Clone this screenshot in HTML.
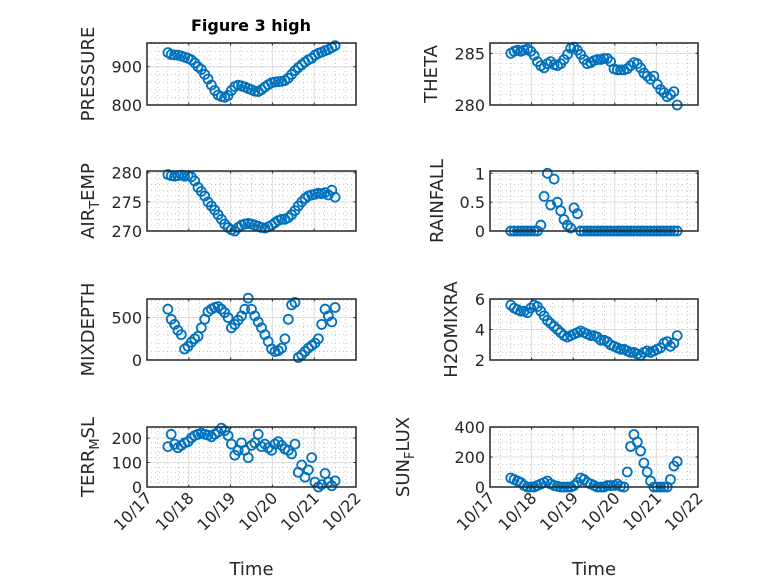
<!DOCTYPE html>
<html><head><meta charset="utf-8"><style>
html,body{margin:0;padding:0;background:#fff;}
svg{display:block;font-family:"DejaVu Sans","Liberation Sans",sans-serif;}
</style></head><body>
<svg id="fig" width="778" height="583" viewBox="0 0 778 583">
<rect width="778" height="583" fill="#fff"/>
</svg>
<script>
const times=[0.50,0.58,0.66,0.74,0.82,0.90,0.98,1.06,1.14,1.22,1.30,1.38,1.46,1.54,1.62,1.70,1.78,1.86,1.94,2.02,2.10,2.18,2.26,2.34,2.42,2.50,2.58,2.66,2.74,2.82,2.90,2.98,3.06,3.14,3.22,3.30,3.38,3.46,3.54,3.62,3.70,3.78,3.86,3.94,4.02,4.10,4.18,4.26,4.34,4.42,4.50];
const pressure=[937,932,931,930,928,925,922,918,910,900,893,880,868,852,838,826,822,820,825,838,848,852,850,847,843,840,836,835,840,847,853,858,860,861,862,864,870,880,890,898,905,912,918,922,930,935,938,942,945,950,955];
const theta=[285.0,285.2,285.3,285.2,285.3,285.4,285.2,284.8,284.2,283.8,283.6,284.0,284.2,283.9,283.8,284.0,284.4,284.9,285.5,285.6,285.3,284.9,284.4,284.0,284.1,284.3,284.4,284.4,284.5,284.5,284.2,283.5,283.4,283.4,283.4,283.5,283.8,284.1,284.0,283.6,283.1,282.8,282.5,282.8,282.0,281.5,281.2,280.8,281.0,281.3,280.0];
const airTemp=[279.7,279.5,279.4,279.5,279.6,279.4,279.5,279.3,278.6,277.5,276.8,276.0,275.0,274.3,273.6,272.8,272.0,271.2,270.6,270.2,270.0,270.6,271.0,271.2,271.3,271.2,271.0,270.8,270.6,270.5,270.7,271.0,271.4,271.8,272.0,272.0,272.3,272.8,273.5,274.3,275.0,275.6,276.0,276.2,276.3,276.5,276.4,276.6,276.2,277.0,275.8];
const rainfall=[0,0,0,0,0,0,0,0,0,0.1,0.6,1.0,0.45,0.9,0.5,0.35,0.2,0.1,0.05,0.4,0.3,0,0,0,0,0,0,0,0,0,0,0,0,0,0,0,0,0,0,0,0,0,0,0,0,0,0,0,0,0,0];
const mixDepth=[600,480,420,350,300,130,160,210,250,280,380,480,570,600,620,630,600,560,500,380,420,470,520,600,730,600,520,450,380,300,220,130,100,110,140,250,480,650,680,30,60,100,140,170,200,250,420,600,520,450,620];
const h2o=[5.6,5.4,5.3,5.2,5.2,5.1,5.4,5.6,5.5,5.2,4.9,4.6,4.4,4.2,4.0,3.8,3.6,3.5,3.6,3.7,3.8,3.9,3.8,3.7,3.6,3.6,3.5,3.3,3.3,3.2,3.0,2.9,2.8,2.7,2.7,2.6,2.5,2.5,2.4,2.3,2.5,2.6,2.5,2.6,2.7,2.8,3.1,3.2,2.9,3.1,3.6];
const terrMsl=[165,215,175,160,170,180,185,200,210,215,220,215,212,205,215,225,240,230,210,175,130,150,180,150,120,170,180,215,165,175,160,150,175,185,170,155,150,135,175,60,90,40,70,120,20,0,10,55,20,5,25];
const sunFlux=[60,50,40,30,10,0,0,0,10,20,30,40,20,10,5,0,0,0,0,10,30,60,50,30,20,10,0,0,0,10,10,10,20,5,0,100,270,350,300,240,160,100,40,0,0,0,0,0,50,140,170];
const xTickLabels=['10/17','10/18','10/19','10/20','10/21','10/22'];

const NS='http://www.w3.org/2000/svg';
const svg=document.getElementById('fig');
function mk(tag,attrs,parent){const e=document.createElementNS(NS,tag);for(const k in attrs)e.setAttribute(k,attrs[k]);(parent||svg).appendChild(e);return e;}

const panels=[
 {key:'pressure',data:pressure,x0:147,x1:356,y0:43,y1:105,ymin:800,ymax:962,ticks:[800,900],tl:['800','900'],minor:20,label:['PRESSURE'],lx:94},
 {key:'theta',data:theta,x0:490,x1:698,y0:43,y1:105,ymin:280,ymax:286,ticks:[280,285],tl:['280','285'],minor:1,label:['THETA'],lx:437},
 {key:'air-temp',data:airTemp,x0:147,x1:356,y0:171,y1:231,ymin:270,ymax:280.3,ticks:[270,275,280],tl:['270','275','280'],minor:1,label:['AIR','T','EMP'],lx:94},
 {key:'rainfall',data:rainfall,x0:490,x1:698,y0:171,y1:231,ymin:0,ymax:1.04,ticks:[0,0.5,1],tl:['0','0.5','1'],minor:0.1,label:['RAINFALL'],lx:443},
 {key:'mixdepth',data:mixDepth,x0:147,x1:356,y0:299,y1:360,ymin:0,ymax:720,ticks:[0,500],tl:['0','500'],minor:100,label:['MIXDEPTH'],lx:94},
 {key:'h2o-mix-ratio',data:h2o,x0:490,x1:698,y0:299,y1:360,ymin:2,ymax:6,ticks:[2,4,6],tl:['2','4','6'],minor:0.5,label:['H2OMIXRA'],lx:457},
 {key:'terr-msl',data:terrMsl,x0:147,x1:356,y0:427,y1:487,ymin:0,ymax:245,ticks:[0,100,200],tl:['0','100','200'],minor:20,label:['TERR','M','SL'],lx:94},
 {key:'sun-flux',data:sunFlux,x0:490,x1:698,y0:427,y1:487,ymin:0,ymax:400,ticks:[0,200,400],tl:['0','200','400'],minor:50,label:['SUN','F','LUX'],lx:409}
];

panels.forEach((p,pi)=>{
  const g=mk('g',{});
  
  
  const xs=t=>p.x0+(t/5)*(p.x1-p.x0);
  const ys=v=>p.y1-(v-p.ymin)/(p.ymax-p.ymin)*(p.y1-p.y0);
  for(let d=0;d<5;d++)for(let k=1;k<4;k++){
    const x=xs(d+k/4);
    mk('line',{x1:x,x2:x,y1:p.y0,y2:p.y1,stroke:'#b0b0b0','stroke-width':0.7,'stroke-dasharray':'1,3'},g);
  }
  for(let v=p.ymin;v<=p.ymax+1e-9;v+=p.minor){
    const vv=Math.round(v/p.minor)*p.minor; if(vv<p.ymin-1e-9||vv>p.ymax)continue;
    if(p.ticks.some(t=>Math.abs(t-vv)<1e-6))continue;
    const y=ys(vv);
    mk('line',{x1:p.x0,x2:p.x1,y1:y,y2:y,stroke:'#b0b0b0','stroke-width':0.7,'stroke-dasharray':'1,3'},g);
  }
  for(let d=1;d<5;d++){const x=xs(d);mk('line',{x1:x,x2:x,y1:p.y0,y2:p.y1,stroke:'#dcdcdc','stroke-width':1},g);}
  p.ticks.forEach(t=>{const y=ys(t);mk('line',{x1:p.x0,x2:p.x1,y1:y,y2:y,stroke:'#dcdcdc','stroke-width':1},g);});
  const ser=mk('g',{fill:'none',stroke:'#0072BD','stroke-width':1.8},g);
  
  
  p.data.forEach((v,i)=>{
    const c=mk('circle',{cx:xs(times[i]).toFixed(1),cy:ys(v).toFixed(1),r:4.5},ser);
    
    
  });
  mk('rect',{x:p.x0,y:p.y0,width:p.x1-p.x0,height:p.y1-p.y0,fill:'none',stroke:'#262626','stroke-width':1.5},g);
  for(let d=0;d<=5;d++){const x=xs(d);
    mk('line',{x1:x,x2:x,y1:p.y1,y2:p.y1-2.5,stroke:'#262626'},g);
    mk('line',{x1:x,x2:x,y1:p.y0,y2:p.y0+2.5,stroke:'#262626'},g);}
  p.ticks.forEach((t,i)=>{const y=ys(t);
    mk('line',{x1:p.x0,x2:p.x0+2.5,y1:y,y2:y,stroke:'#262626'},g);
    mk('line',{x1:p.x1,x2:p.x1-2.5,y1:y,y2:y,stroke:'#262626'},g);
    const tx=mk('text',{x:p.x0-5,y:y+6,'text-anchor':'end','font-size':16,fill:'#262626'},g);
    tx.textContent=p.tl[i];
    
    
  });
  const cy=(p.y0+p.y1)/2;
  const lab=mk('text',{x:0,y:0,transform:`translate(${p.lx},${cy}) rotate(-90)`,'text-anchor':'middle','font-size':18,fill:'#262626'},g);
  
  
  if(p.label.length===1){lab.textContent=p.label[0];}
  else{
    const a=mk('tspan',{},lab);a.textContent=p.label[0];
    const b=mk('tspan',{dy:5,'font-size':13},lab);b.textContent=p.label[1];
    const c=mk('tspan',{dy:-5},lab);c.textContent=p.label[2];
  }
  if(pi>=6){
    xTickLabels.forEach((s,d)=>{const x=xs(d);
      const t=mk('text',{x:0,y:0,transform:`translate(${x+6},${p.y1+12}) rotate(-45)`,'text-anchor':'end','font-size':16,fill:'#262626'},g);
      t.textContent=s;
      
      
    });
    const xt=mk('text',{x:(p.x0+p.x1)/2,y:575,'text-anchor':'middle','font-size':18,fill:'#262626'},g);
    xt.textContent='Time';
    
    
  }
});
const title=mk('text',{x:251,y:31,'text-anchor':'middle','font-size':16,'font-weight':'bold',fill:'#000'});
title.textContent='Figure 3 high';


</script>
</body></html>
